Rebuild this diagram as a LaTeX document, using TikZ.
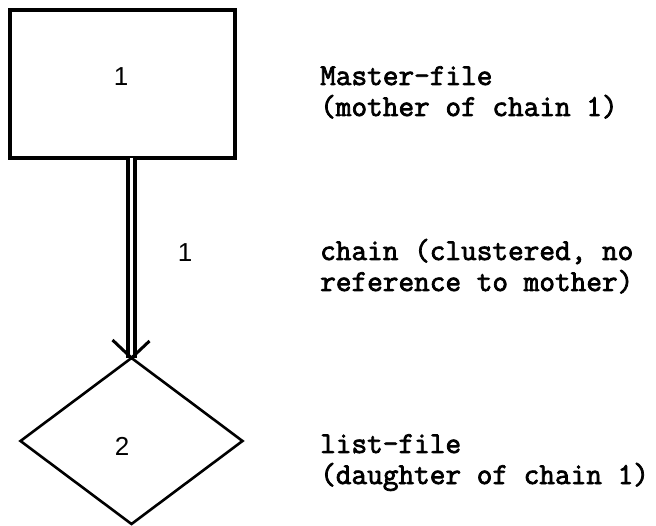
\documentclass[tikz,border=0pt]{standalone}
\usepackage{fontspec}
\newfontfamily\digitfont{Liberation Sans}
\newfontfamily\typewriter{Latin Modern Mono}[FakeBold=2.5]
\usetikzlibrary{shapes.geometric}
\tikzset{
  filebox/.style={draw, line width=4pt, minimum width=224.5pt, minimum height=147.5pt, inner sep=0pt, outer sep=0pt},
  listdiamond/.style={diamond, draw, line width=2.6pt, minimum width=222pt, minimum height=166pt, inner sep=0pt, outer sep=0pt},
  chainline/.style={draw, line width=3.8pt, double, double distance=3.4pt},
  tiparm/.style={line width=3pt},
  numlabel/.style={font=\digitfont\fontsize{26}{26}\selectfont, anchor=base, inner sep=0pt},
  typed/.style={font=\typewriter\fontsize{30.4}{31}\selectfont, anchor=base west, inner sep=0pt}
}
\begin{document}
\begin{tikzpicture}[x=1pt, y=-1pt]
  \useasboundingbox (0,0) rectangle (656,526);

  % master file (box) and list file (diamond)
  \node[filebox] (master) at (122.25,84.25) {};
  \node[listdiamond] (list) at (131.5,441) {};

  % chain 1: double line with open arrow tip at the diamond
  \draw[chainline] (list.north |- master.south) -- (list.north);
  \draw[tiparm] (list.north) -- ++(-19,-18);
  \draw[tiparm] (list.north) -- ++(18,-17);

  % numbers
  \node[numlabel] (n1) at (121,86) {1};
  \node[numlabel] (c1) at (185,262) {1};
  \node[numlabel] (n2) at (122,455) {2};

  % descriptions
  \node[typed] (t1) at (320,85) {Master-file};
  \node[typed] (t2) at (320,116) {(mother of chain 1)};
  \node[typed] (t3) at (320,260) {chain (clustered, no};
  \node[typed] (t4) at (320,291) {reference to mother)};
  \node[typed] (t5) at (320,453) {list-file};
  \node[typed] (t6) at (320,484) {(daughter of chain 1)};
\end{tikzpicture}
\end{document}
